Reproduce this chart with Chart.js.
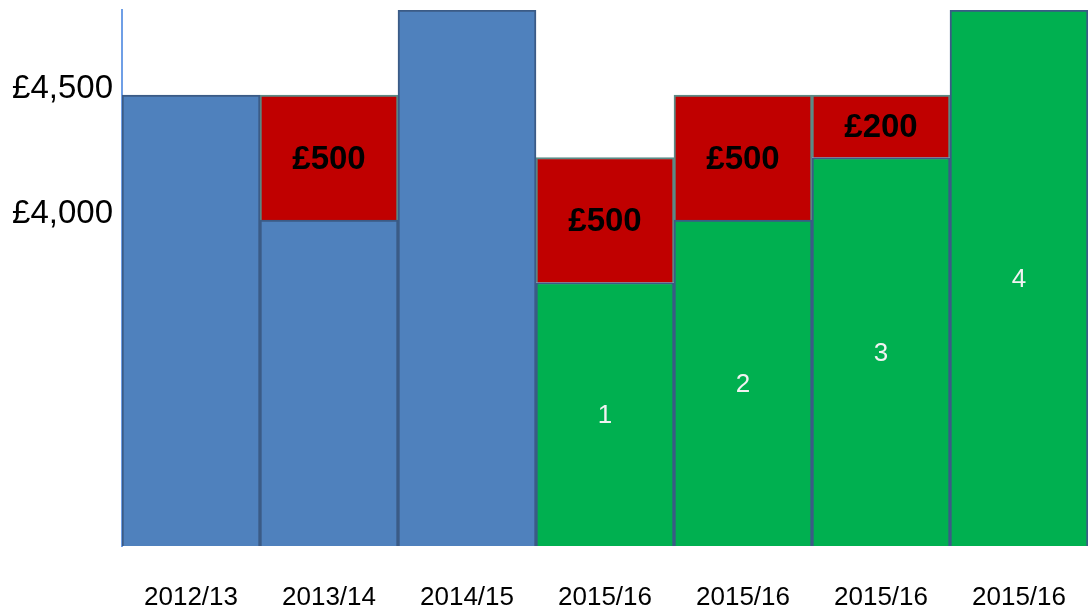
<!DOCTYPE html>
<html>
<head>
    <title>Funding by year</title>
    <script src="https://cdn.jsdelivr.net/npm/chart.js"></script>
    <style>
        body { margin: 0; background: #fff; }
        canvas { display: block; }
    </style>
</head>
<body>
    <canvas id="fundChart" width="1088" height="610"></canvas>

    <script>
        const categories = ['2012/13', '2013/14', '2014/15', '2015/16', '2015/16', '2015/16', '2015/16'];
        const blueValues = [4500, 4000, 4840, null, null, null, null];
        const greenValues = [null, null, null, 3750, 4000, 4250, 4840];
        const redValues = [null, 500, null, 500, 500, 250, null];
        const redLabels = ['', '£500', '', '£500', '£500', '£200', ''];
        const greenLabels = ['', '', '', '1', '2', '3', '4'];
        const yTicks = [4000, 4500];

        // writes the text in the middle of each visible bar piece
        const barText = {
            id: 'barText',
            afterDatasetsDraw(chart) {
                const c = chart.ctx;
                const area = chart.chartArea;
                const sets = [[1, greenLabels, '#f2f2f2', '26px Arial, "Liberation Sans"'],
                              [2, redLabels, '#000', 'bold 33px Arial, "Liberation Sans"']];
                c.save();
                c.textAlign = 'center';
                c.textBaseline = 'middle';
                sets.forEach(([idx, texts, col, font]) => {
                    const meta = chart.getDatasetMeta(idx);
                    meta.data.forEach((bar, i) => {
                        if (!texts[i]) return;
                        const top = Math.max(bar.y, area.top);
                        const bottom = Math.min(bar.base, area.bottom);
                        c.fillStyle = col;
                        c.font = font;
                        c.fillText(texts[i], bar.x, (top + bottom) / 2 + 2);
                    });
                });
                c.restore();
            }
        };

        const ctx = document.getElementById('fundChart').getContext('2d');

        new Chart(ctx, {
            type: 'bar',
            data: {
                labels: categories,
                datasets: [
                    {
                        label: 'Previous years',
                        data: blueValues,
                        backgroundColor: '#4f81bd',
                        borderColor: '#3b5b86',
                        borderWidth: 2,
                        barPercentage: 1,
                        categoryPercentage: 1
                    },
                    {
                        label: '2015/16',
                        data: greenValues,
                        backgroundColor: '#00b050',
                        borderColor: '#3b5b86',
                        borderWidth: 2,
                        barPercentage: 1,
                        categoryPercentage: 1
                    },
                    {
                        label: 'Reduction',
                        data: redValues,
                        backgroundColor: '#c00000',
                        borderColor: '#5b8b86',
                        borderWidth: 2,
                        barPercentage: 1,
                        categoryPercentage: 1
                    }
                ]
            },
            options: {
                responsive: false,
                animation: false,
                layout: { padding: { top: 10, right: 0, left: 0, bottom: 0 } },
                plugins: {
                    legend: { display: false },
                    tooltip: { enabled: false }
                },
                scales: {
                    x: {
                        stacked: true,
                        grid: { display: false },
                        border: { display: false },
                        ticks: {
                            color: '#000',
                            padding: 28,
                            maxRotation: 0,
                            autoSkip: false,
                            font: { family: 'Arial, "Liberation Sans"', size: 26 }
                        },
                        afterFit(scale) {
                            scale.height = 64;
                            scale.paddingLeft = 0;
                            scale.paddingRight = 0;
                        }
                    },
                    y: {
                        stacked: true,
                        min: 2696,
                        max: 4840,
                        grid: { display: false, drawTicks: false },
                        border: { display: true, color: '#6f9fe6', width: 2 },
                        afterBuildTicks(scale) {
                            scale.ticks = yTicks.map(v => ({ value: v }));
                        },
                        ticks: {
                            color: '#000',
                            padding: 9,
                            labelOffset: -6,
                            font: { family: 'Arial, "Liberation Sans"', size: 33 },
                            callback: v => '£' + v.toLocaleString('en-GB')
                        },
                        afterFit(scale) {
                            scale.width = 122;
                            scale.paddingTop = 0;
                            scale.paddingBottom = 0;
                        }
                    }
                }
            },
            plugins: [barText]
        });
    </script>
</body>
</html>
